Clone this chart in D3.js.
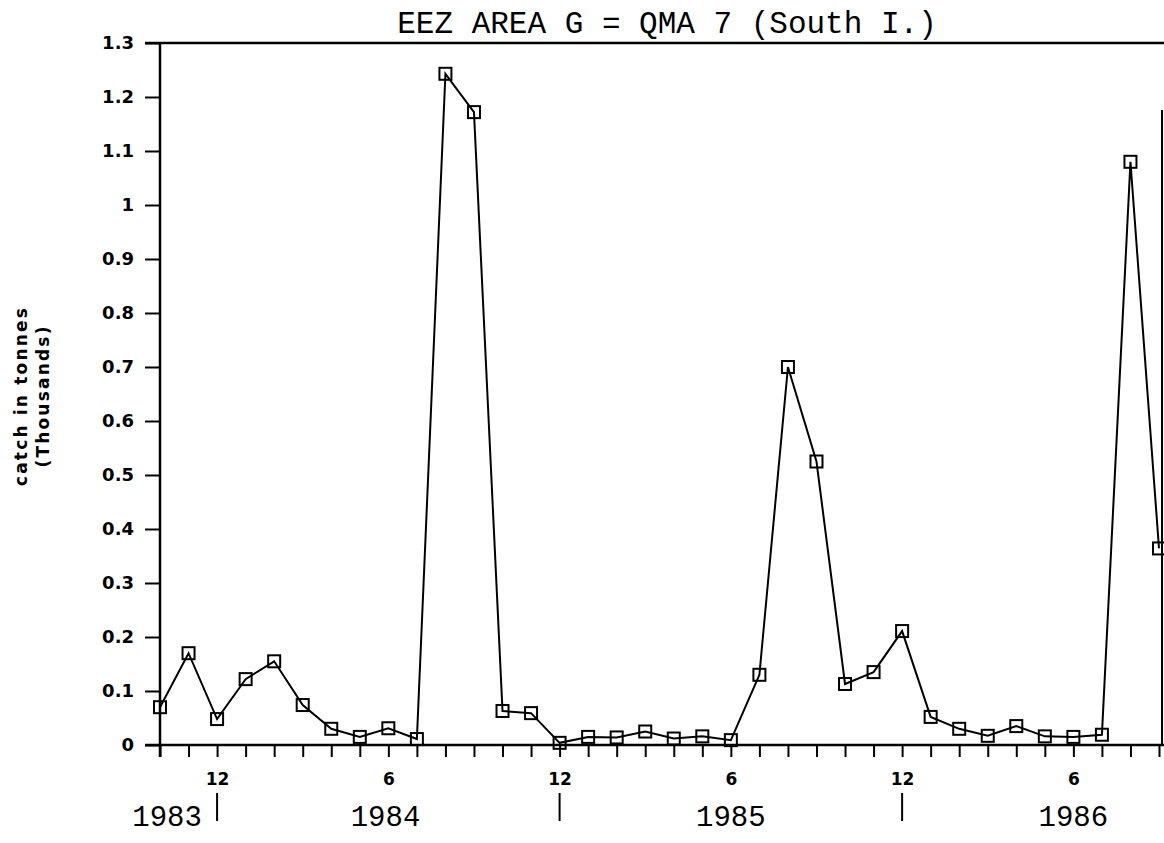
<!DOCTYPE html>
<html>
<head>
<meta charset="utf-8">
<script src="https://cdn.jsdelivr.net/npm/d3@7"></script>
<style>
  body { margin: 0; background: #fff; }
  svg { display: block; }
  .axis line { stroke: #000; stroke-width: 2px; }
  .mono { font-family: "Liberation Mono", "Courier New", monospace; fill: #000; }
</style>
</head>
<body>
<svg id="chart"></svg>
<script>
// monthly catch, Oct 1983 .. Sep 1986 (thousands of tonnes)
const months = d3.range(36);
const catchK = [0.070, 0.170, 0.048, 0.122, 0.155, 0.074, 0.030, 0.015, 0.031, 0.011,
                1.243, 1.172, 0.063, 0.059, 0.004, 0.015, 0.014, 0.025, 0.012, 0.016,
                0.009, 0.130, 0.700, 0.525, 0.113, 0.135, 0.211, 0.052, 0.030, 0.017,
                0.035, 0.016, 0.015, 0.019, 1.080, 0.364];
const yTicks = d3.range(0, 14).map(i => i / 10);
const monthLabels = { 2: "12", 8: "6", 14: "12", 20: "6", 26: "12", 32: "6" };
const yearNames = ["1983", "1984", "1985", "1986"];
const yearPos = [0.25, 7.9, 20, 32];
const yearBreaks = [2, 14, 26];

const width = 1164, height = 843;
const svg = d3.select("#chart").attr("width", width).attr("height", height);

const x = d3.scaleLinear().domain([0, 35]).range([160, 1159]);
const y = d3.scaleLinear().domain([0, 1.3]).range([745, 43]);

const sansBold = "DejaVu Sans, Verdana, sans-serif";

// frame
svg.append("line").attr("x1", 145).attr("x2", 1164).attr("y1", y(1.3)).attr("y2", y(1.3))
    .attr("stroke", "#000").attr("stroke-width", 2.5);
svg.append("line").attr("x1", 145).attr("x2", 1164).attr("y1", y(0)).attr("y2", y(0))
    .attr("stroke", "#000").attr("stroke-width", 2.5);
svg.append("line").attr("x1", x(0)).attr("x2", x(0)).attr("y1", y(1.3)).attr("y2", y(0) + 12)
    .attr("stroke", "#000").attr("stroke-width", 2.5);
svg.append("line").attr("x1", 1162).attr("x2", 1162).attr("y1", 110).attr("y2", y(0))
    .attr("stroke", "#000").attr("stroke-width", 2);

// y axis
const gy = svg.append("g")
    .attr("class", "axis")
    .attr("transform", `translate(${x(0)},0)`)
    .call(d3.axisLeft(y).tickValues(yTicks).tickSize(15).tickPadding(11)
        .tickFormat(d => String(+d.toFixed(1))));
gy.select(".domain").remove();
gy.attr("font-size", 18).attr("font-family", sansBold).attr("font-weight", "bold");
gy.selectAll("text")
    .style("font-family", sansBold).style("font-weight", "bold")
    .style("font-size", "18px").attr("fill", "#000");

// x axis
const gx = svg.append("g")
    .attr("class", "axis")
    .attr("transform", `translate(0,${y(0)})`)
    .call(d3.axisBottom(x).tickValues(months).tickSize(12).tickPadding(16)
        .tickFormat(d => monthLabels[d] || ""));
gx.select(".domain").remove();
gx.attr("font-size", 17).attr("font-family", sansBold).attr("font-weight", "bold");
gx.selectAll("text")
    .style("font-family", sansBold).style("font-weight", "bold")
    .style("font-size", "17px").attr("fill", "#000");

// year separators and labels
svg.selectAll(".ybreak")
  .data(yearBreaks)
  .enter().append("line")
    .attr("class", "ybreak")
    .attr("x1", d => x(d)).attr("x2", d => x(d))
    .attr("y1", 793).attr("y2", 821)
    .attr("stroke", "#000").attr("stroke-width", 2);

svg.selectAll(".year")
  .data(yearNames)
  .enter().append("text")
    .attr("class", "year mono")
    .attr("x", (d, i) => x(yearPos[i]))
    .attr("y", 826)
    .attr("text-anchor", "middle")
    .attr("font-size", 29)
    .text(d => d);

// title
svg.append("text")
    .attr("class", "mono")
    .attr("x", 667)
    .attr("y", 33)
    .attr("text-anchor", "middle")
    .attr("font-size", 31)
    .text("EEZ AREA G = QMA 7 (South I.)");

// y label
const yl = svg.append("text")
    .attr("transform", "translate(27,396) rotate(-90)")
    .attr("text-anchor", "middle")
    .style("font-family", sansBold)
    .style("font-weight", "bold")
    .style("font-size", "17px")
    .style("letter-spacing", "2.2px");
yl.append("tspan").attr("x", 0).attr("y", 0).text("catch in tonnes");
yl.append("tspan").attr("x", 0).attr("y", 22).text("(Thousands)");

// series
const line = d3.line().x((d, i) => x(months[i])).y(d => y(d));
svg.append("path")
    .datum(catchK)
    .attr("d", line)
    .attr("fill", "none")
    .attr("stroke", "#000")
    .attr("stroke-width", 2);

svg.selectAll(".pt")
  .data(catchK)
  .enter().append("rect")
    .attr("class", "pt")
    .attr("x", (d, i) => x(months[i]) - 6)
    .attr("y", d => y(d) - 6)
    .attr("width", 12)
    .attr("height", 12)
    .attr("fill", "none")
    .attr("stroke", "#000")
    .attr("stroke-width", 2);
</script>
</body>
</html>
